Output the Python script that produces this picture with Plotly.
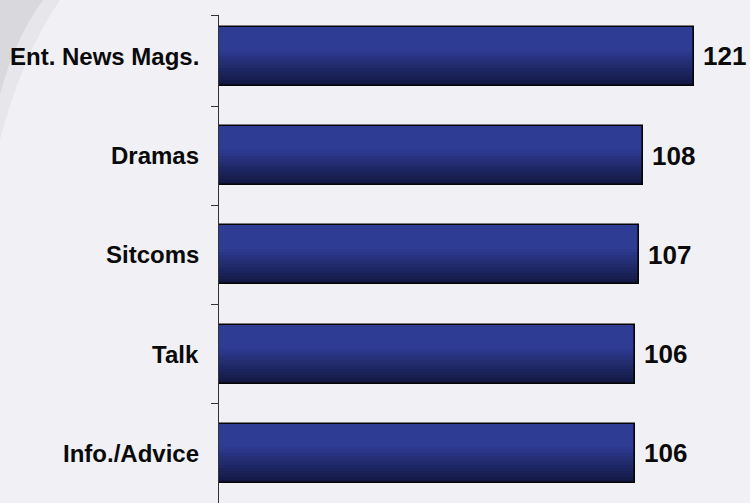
import plotly.graph_objects as go

# Index values by programme genre (top to bottom)
categories = ["Ent. News Mags.", "Dramas", "Sitcoms", "Talk", "Info./Advice"]
values = [121, 108, 107, 106, 106]

W, H = 750, 503
L, R, T, B = 219, 1, 15, 0
BAR_W = 0.594
BG = "#f1f0f4"
FONT = "Liberation Sans, Arial, sans-serif"

# numeric y positions, first category at the top
ypos = list(range(len(categories) - 1, -1, -1))
y_lo, y_hi = -0.5, 4.418

fig = go.Figure()

# vertical gradient on the bars: stacked top-aligned layers, lighter toward the top
dark = (0x13, 0x18, 0x42)
light = (0x2e, 0x3c, 0x94)
N = 20
for i in range(N):
    frac = i / (N - 1)
    t = min(1.0, frac * 1.6)
    col = tuple(round(dark[k] + (light[k] - dark[k]) * t) for k in range(3))
    w = BAR_W * (1 - i / N)
    fig.add_trace(go.Bar(
        x=values, y=ypos, orientation="h",
        width=w, offset=BAR_W / 2 - w,
        marker=dict(color="rgb(%d,%d,%d)" % col, line=dict(width=0)),
        hoverinfo="skip", showlegend=False,
    ))

# outline
fig.add_trace(go.Bar(
    x=values, y=ypos, orientation="h", width=BAR_W,
    marker=dict(color="rgba(0,0,0,0)", line=dict(color="#050505", width=1.6)),
    hoverinfo="skip", showlegend=False,
))

# value labels
for v, y in zip(values, ypos):
    fig.add_annotation(x=v, y=y, xref="x", yref="y", text="<b>%d</b>" % v,
                       showarrow=False, xanchor="left", yanchor="middle", xshift=7,
                       font=dict(family=FONT, size=26, color="#0a0a0a"))

# category labels
for c, y in zip(categories, ypos):
    fig.add_annotation(x=0, y=y, xref="x", yref="y", text="<b>%s</b>" % c,
                       showarrow=False, xanchor="right", yanchor="middle", xshift=-18,
                       font=dict(family=FONT, size=24, color="#0a0a0a"))


# soft grey swoosh in the top-left corner of the background
pw, ph = W - L - R, H - T - B


def px(x, y):
    return (x - L) / pw, (H - B - y) / ph


def path(points):
    parts = []
    for cmd, pts in points:
        coords = " ".join("%.4f,%.4f" % px(*p) for p in pts)
        parts.append(cmd + " " + coords)
    return " ".join(parts) + " Z"


fig.add_shape(type="path", xref="paper", yref="paper", layer="below",
              path=path([("M", [(0, 0)]), ("L", [(60, 0)]),
                         ("Q", [(22, 55), (0, 140)])]),
              fillcolor="#e7e6eb", line=dict(width=0))
fig.add_shape(type="path", xref="paper", yref="paper", layer="below",
              path=path([("M", [(0, 0)]), ("L", [(43, 0)]),
                         ("Q", [(14, 40), (0, 95)])]),
              fillcolor="#d9d9dd", line=dict(width=0))

fig.update_layout(
    width=W, height=H,
    margin=dict(l=L, r=R, t=T, b=B),
    paper_bgcolor=BG, plot_bgcolor="rgba(0,0,0,0)",
    barmode="overlay", bargap=0,
    showlegend=False,
    xaxis=dict(range=[0, 135], visible=False, fixedrange=True),
    yaxis=dict(range=[y_lo, y_hi], tickmode="array",
               tickvals=[4.41, 3.5, 2.5, 1.5, 0.5], ticktext=[""] * 5,
               ticks="outside", ticklen=7, tickwidth=1.3, tickcolor="#333333",
               showline=True, linecolor="#333333", linewidth=1.3,
               showgrid=False, zeroline=False, fixedrange=True),
)

fig.write_html("out.html")
